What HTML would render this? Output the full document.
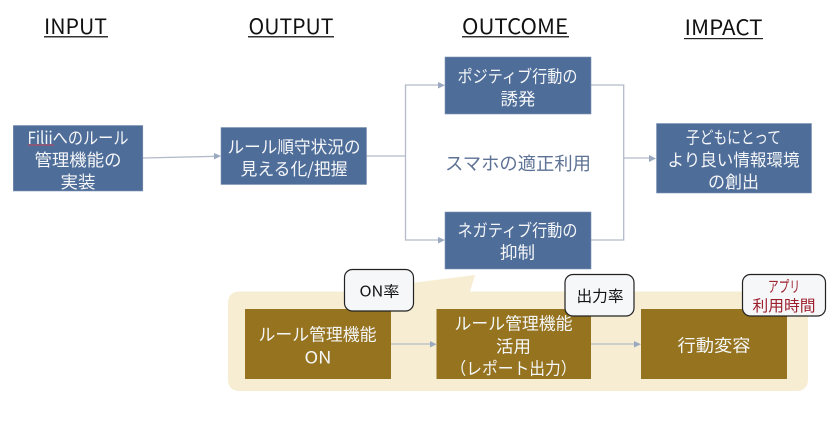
<!DOCTYPE html>
<html><head><meta charset="utf-8">
<style>
html,body{margin:0;padding:0;background:#fff;width:840px;height:423px;overflow:hidden}
svg{display:block}
text{font-family:"Noto Sans CJK JP","Liberation Sans",sans-serif;text-anchor:middle;dominant-baseline:central}
.h{font-size:21px;fill:#111}
.w{font-size:17px;fill:#f4f6f8}
.b{fill:#4f6d99;stroke:#7f95b5;stroke-width:.6}
.g{fill:#96741f}
.l{fill:none;stroke:#b3bbc8;stroke-width:1.3}
.a{fill:#9aa9c0}
.c{fill:#f6f7f9;stroke:#222;stroke-width:1.2}
</style></head><body>
<svg width="840" height="423" viewBox="0 0 840 423" xmlns="http://www.w3.org/2000/svg">
<!-- headings -->
<text class="h" x="75.5" y="26" textLength="63" lengthAdjust="spacingAndGlyphs">INPUT</text>
<rect x="44" y="36" width="64" height="1.5" fill="#333"/>
<text class="h" x="291" y="26" textLength="85" lengthAdjust="spacingAndGlyphs">OUTPUT</text>
<rect x="248" y="36" width="86" height="1.5" fill="#333"/>
<text class="h" x="515" y="26" textLength="106" lengthAdjust="spacingAndGlyphs">OUTCOME</text>
<rect x="462" y="36" width="107" height="1.5" fill="#333"/>
<text class="h" x="723.5" y="27" textLength="78" lengthAdjust="spacingAndGlyphs">IMPACT</text>
<rect x="684" y="38" width="79" height="1.2" fill="#222"/>

<!-- connectors -->
<path class="l" d="M143 158L216 156.3"/>
<path class="a" d="M214 153 L221 156 L214 159.5Z"/>
<path class="l" d="M366 156H405.5M440 85H405.5V240H440"/>
<path class="a" d="M438 82L445 85.3L438 88.5Z"/>
<path class="a" d="M438 237L445 240L438 243.5Z"/>
<path class="l" d="M591 85H623.7V240H591M623.7 158H651"/>
<path class="a" d="M649 155L656 158.5L649 162Z"/>

<!-- top boxes -->
<rect class="b" x="13.3" y="125.5" width="129.5" height="65.5"/>
<text class="w" x="78" y="136.500" textLength="101" lengthAdjust="spacingAndGlyphs">Filiiへのルール</text>
<path d="M28 145h26" stroke="#c4455a" stroke-width="1" fill="none"/>
<text class="w" x="78" y="158.500" textLength="87" lengthAdjust="spacingAndGlyphs">管理機能の</text>
<text class="w" x="78" y="180.500" textLength="35" lengthAdjust="spacingAndGlyphs">実装</text>

<rect class="b" x="221" y="127.5" width="145.5" height="57"/>
<text class="w" x="294" y="145.500" textLength="133" lengthAdjust="spacingAndGlyphs">ルール順守状況の</text>
<text class="w" x="294" y="167.500" textLength="107" lengthAdjust="spacingAndGlyphs">見える化/把握</text>

<rect class="b" x="445" y="57" width="146" height="57"/>
<text class="w" x="517.5" y="75" textLength="120" lengthAdjust="spacingAndGlyphs">ポジティブ行動の</text>
<text class="w" x="518" y="97.500" textLength="35" lengthAdjust="spacingAndGlyphs">誘発</text>

<text x="518" y="163" font-size="18.2" fill="#5d7295" textLength="146" lengthAdjust="spacingAndGlyphs">スマホの適正利用</text>

<rect class="b" x="445" y="212" width="146" height="57"/>
<text class="w" x="517.5" y="229" textLength="120" lengthAdjust="spacingAndGlyphs">ネガティブ行動の</text>
<text class="w" x="517.5" y="251" textLength="35" lengthAdjust="spacingAndGlyphs">抑制</text>

<rect class="b" x="656.5" y="123.5" width="155" height="69.5"/>
<text class="w" x="733.5" y="136" textLength="95" lengthAdjust="spacingAndGlyphs">子どもにとって</text>
<text class="w" x="733.5" y="158.500" textLength="132" lengthAdjust="spacingAndGlyphs">より良い情報環境</text>
<text class="w" x="733.5" y="180.500" textLength="51" lengthAdjust="spacingAndGlyphs">の創出</text>

<!-- beige callout -->
<path fill="#f6edd3" d="M240 291.500H345L475 275L470 291.500H796Q808 291.500 808 303.500V379Q808 391 796 391H240Q228 391 228 379V303.500Q228 291.500 240 291.500Z"/>

<!-- brown boxes -->
<rect class="g" x="245" y="309" width="146" height="70"/>
<text class="w" x="317.500" y="333" textLength="118" lengthAdjust="spacingAndGlyphs">ルール管理機能</text>
<text class="w" x="318" y="356" textLength="27" lengthAdjust="spacingAndGlyphs">ON</text>

<rect class="g" x="436.500" y="309" width="154.500" height="70"/>
<text class="w" x="513.500" y="322" textLength="118" lengthAdjust="spacingAndGlyphs">ルール管理機能</text>
<text class="w" x="513.500" y="345" textLength="35" lengthAdjust="spacingAndGlyphs">活用</text>
<text class="w" x="513.500" y="367" textLength="126" lengthAdjust="spacingAndGlyphs">（レポート出力）</text>

<rect class="g" x="641" y="309" width="146" height="70"/>
<text class="w" x="714" y="344" textLength="73" lengthAdjust="spacingAndGlyphs">行動変容</text>

<path class="l" d="M391 344H432M591 344H636"/>
<path class="a" d="M430 341L436.500 344.300L430 347.500Z"/>
<path class="a" d="M634 341L641 344.300L634 347.500Z"/>

<!-- metric callouts -->
<rect class="c" x="344.500" y="269.500" width="69" height="41.500" rx="8"/>
<text x="379.500" y="291" font-size="15" fill="#111" textLength="40" lengthAdjust="spacingAndGlyphs">ON率</text>
<rect class="c" x="565" y="274.500" width="69" height="41.500" rx="8"/>
<text x="600" y="295.500" font-size="15.500" fill="#111" textLength="47" lengthAdjust="spacingAndGlyphs">出力率</text>
<rect class="c" x="742.500" y="274.500" width="83" height="41.500" rx="8"/>
<text x="784" y="286" font-size="15.500" fill="#9c1f2c" textLength="32" lengthAdjust="spacingAndGlyphs">アプリ</text>
<text x="784" y="305" font-size="15.500" fill="#9c1f2c" textLength="63" lengthAdjust="spacingAndGlyphs">利用時間</text>
</svg>
</body></html>
